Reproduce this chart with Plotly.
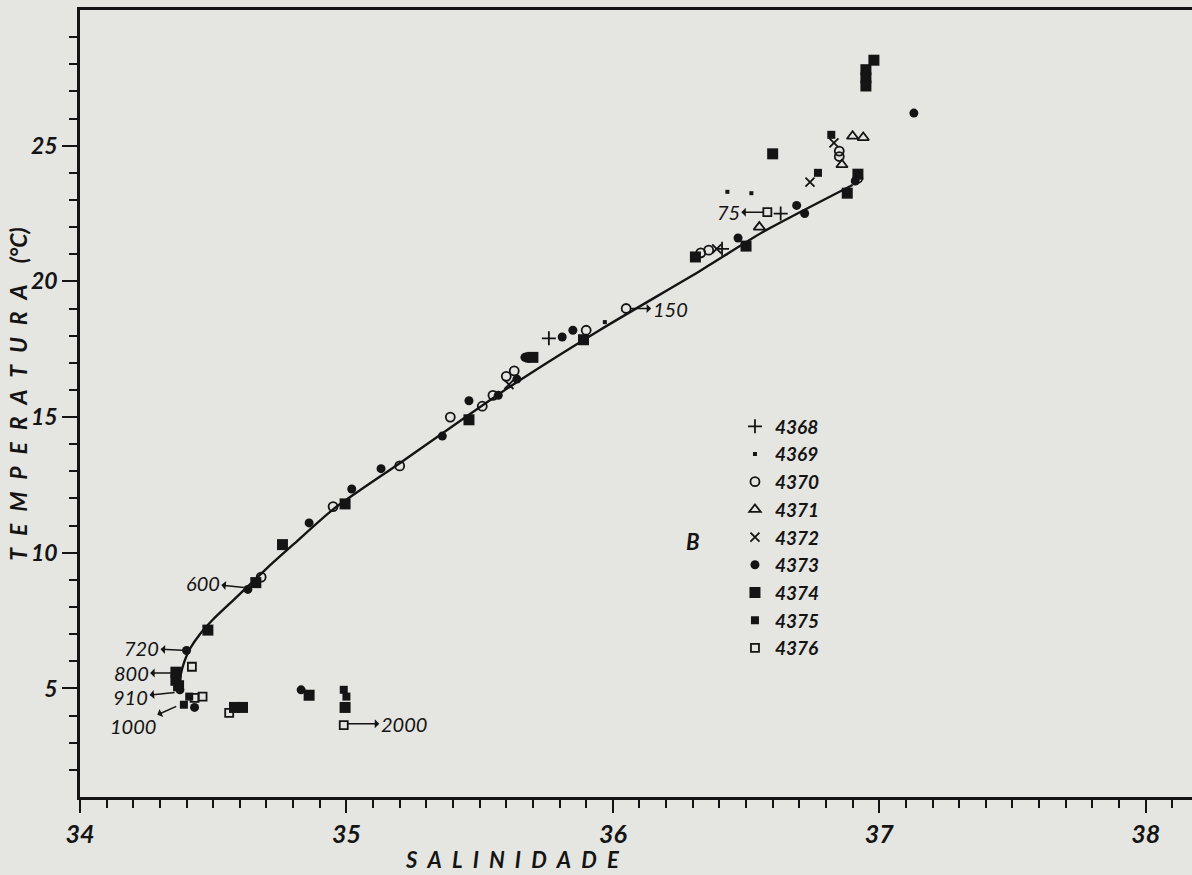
import plotly.graph_objects as go

# ---------------- data ----------------
curve_S = [34.372, 34.378, 34.392, 34.415, 34.45, 34.50, 34.57, 34.64, 34.72, 34.80, 34.95, 35.20, 35.58, 35.95, 36.33, 36.56, 36.90]
curve_T = [4.9, 5.5, 6.0, 6.5, 7.0, 7.55, 8.2, 8.85, 9.6, 10.3, 11.6, 13.3, 15.9, 18.2, 20.4, 21.8, 23.55]

st4368_S = [35.76, 36.63, 36.41]
st4368_T = [17.9, 22.5, 21.2]

st4369_S = [35.97, 36.43, 36.52]
st4369_T = [18.5, 23.3, 23.25]

st4370_S = [36.05, 34.68, 34.95, 35.20, 35.39, 35.51, 35.55, 35.60, 35.63, 35.68, 35.90, 36.33, 36.36, 36.85, 36.85, 36.92]
st4370_T = [19.0, 9.1, 11.7, 13.2, 15.0, 15.4, 15.8, 16.5, 16.7, 17.2, 18.2, 21.05, 21.15, 24.8, 24.6, 23.8]

st4371_S = [36.90, 36.94, 36.86, 36.55]
st4371_T = [25.35, 25.3, 24.3, 22.0]

st4372_S = [36.83, 36.74, 36.39, 35.61]
st4372_T = [25.1, 23.66, 21.2, 16.2]

st4373_S = [34.40, 34.375, 34.43, 34.63, 34.83, 34.86, 35.02, 35.13, 35.36, 35.46, 35.57, 35.64, 35.67,
            35.81, 35.85, 36.47, 36.69, 36.72, 37.13, 36.91]
st4373_T = [6.4, 4.95, 4.3, 8.65, 4.95, 11.1, 12.35, 13.1, 14.3, 15.6, 15.8, 16.4, 17.2,
            17.95, 18.2, 21.6, 22.8, 22.5, 26.2, 23.7]

st4374_S = [34.48, 34.36, 34.36, 34.37, 34.66, 34.76, 34.995, 34.58, 34.61, 34.86, 34.995, 35.46, 35.70,
            35.89, 36.31, 36.50, 36.60, 36.88, 36.92, 36.95, 36.95, 36.95, 36.98]
st4374_T = [7.15, 5.6, 5.3, 5.1, 8.9, 10.3, 11.8, 4.3, 4.3, 4.75, 4.3, 14.9, 17.2,
            17.85, 20.9, 21.3, 24.7, 23.25, 23.95, 27.8, 27.5, 27.2, 28.15]

st4375_S = [36.82, 36.77, 34.99, 35.00, 34.39, 34.41]
st4375_T = [25.4, 24.0, 4.95, 4.7, 4.4, 4.7]

st4376_S = [34.42, 34.46, 34.56, 34.99, 36.58, 34.43]
st4376_T = [5.8, 4.7, 4.1, 3.65, 22.55, 4.65]

depth_labels = ["600", "720", "800", "910", "1000", "75", "150", "2000"]
depth_S = [34.63, 34.40, 34.357, 34.37, 34.375, 36.58, 36.05, 34.99]
depth_T = [8.7, 6.4, 5.57, 4.87, 4.4, 22.55, 19.0, 3.7]
depth_dx = [-45, -45, -44, -48, -47, -39, 44, 60]
depth_dy = [-5, -2, 0, 5, 21, 0, 0, 0]

x_ticks = [34, 35, 36, 37, 38]
y_ticks = [5, 10, 15, 20, 25]

# ---------------- figure ----------------
INK = "#141414"
BG = "#e5e5e1"
FONT = "Lato"

fig = go.Figure()

fig.add_trace(go.Scatter(x=curve_S, y=curve_T, mode="lines",
                         line=dict(color=INK, width=2.4, shape="spline", smoothing=0.6),
                         showlegend=False, hoverinfo="skip"))

stations = [
    ("4368", st4368_S, st4368_T, dict(symbol="cross-thin", size=10, line=dict(color=INK, width=1.8))),
    ("4369", st4369_S, st4369_T, dict(symbol="square", size=4, color=INK)),
    ("4370", st4370_S, st4370_T, dict(symbol="circle-open", size=9, color=INK, line=dict(width=1.8))),
    ("4371", st4371_S, st4371_T, dict(symbol="triangle-up-open", size=10, color=INK, line=dict(width=1.8))),
    ("4372", st4372_S, st4372_T, dict(symbol="x-thin", size=9, line=dict(color=INK, width=1.8))),
    ("4373", st4373_S, st4373_T, dict(symbol="circle", size=9, color=INK)),
    ("4374", st4374_S, st4374_T, dict(symbol="square", size=11, color=INK)),
    ("4375", st4375_S, st4375_T, dict(symbol="square", size=8, color=INK)),
    ("4376", st4376_S, st4376_T, dict(symbol="square-open", size=8, color=INK, line=dict(width=1.8))),
]
for name, xs, ys, mk in stations:
    fig.add_trace(go.Scatter(x=xs, y=ys, mode="markers", name=name, marker=mk))

annotations = []
for lab, s, t, dx, dy in zip(depth_labels, depth_S, depth_T, depth_dx, depth_dy):
    annotations.append(dict(x=s, y=t, xref="x", yref="y", text=lab, showarrow=True,
                            ax=dx, ay=dy, axref="pixel", ayref="pixel",
                            arrowside="start", arrowhead=2, arrowsize=1, arrowwidth=1.5,
                            arrowcolor=INK, standoff=4, startstandoff=1, borderpad=0,
                            font=dict(family=FONT, size=20, color=INK, style="italic")))

annotations.append(dict(x=0.551, y=0.305, xref="paper", yref="paper", text="B", showarrow=False,
                        font=dict(family=FONT, size=22, color=INK, style="italic", weight="bold")))

annotations.append(dict(x=-0.056, y=0.512, xref="paper", yref="paper",
                        text="\u2002\u200a".join(list("TEMPERATURA")) + "\u2002\u2002(°C)",
                        textangle=-90, showarrow=False, xanchor="center", yanchor="middle",
                        font=dict(family=FONT, size=23, color=INK, style="italic", weight="bold")))

annotations.append(dict(x=0.389, y=-0.080, xref="paper", yref="paper",
                        text="\u2002".join(list("SALINIDADE")),
                        showarrow=False, xanchor="center", yanchor="middle",
                        font=dict(family=FONT, size=22, color=INK, style="italic", weight="bold")))

fig.update_layout(
    width=1192, height=875,
    margin=dict(l=80, r=0, t=10, b=78),
    paper_bgcolor=BG, plot_bgcolor=BG,
    annotations=annotations,
    legend=dict(x=0.589, y=0.495, xanchor="left", yanchor="top", bgcolor="rgba(0,0,0,0)",
                font=dict(family=FONT, size=19, color=INK, style="italic", weight="bold"),
                itemwidth=30, tracegroupgap=0),
    showlegend=True,
)

fig.update_xaxes(range=[34, 38.174], showgrid=False, zeroline=False,
                 showline=True, linecolor=INK, linewidth=2.5, mirror=True,
                 tickmode="array", tickvals=x_ticks, ticktext=[str(v) for v in x_ticks],
                 ticks="outside", ticklen=13, tickwidth=2, tickcolor=INK,
                 minor=dict(tickmode="array", tickvals=[round(34 + 0.1 * i, 1) for i in range(1, 42)],
                            ticks="outside", ticklen=8, tickwidth=1.6, tickcolor=INK, showgrid=False),
                 tickfont=dict(family=FONT, size=25, color=INK, weight="bold", style="italic"))

fig.update_yaxes(range=[1, 30], showgrid=False, zeroline=False,
                 showline=True, linecolor=INK, linewidth=2.5, mirror=False,
                 tickmode="array", tickvals=y_ticks, ticktext=[str(v) for v in y_ticks],
                 ticks="outside", ticklen=15, tickwidth=2, tickcolor=INK,
                 minor=dict(tickmode="array", tickvals=list(range(2, 30)),
                            ticks="outside", ticklen=8, tickwidth=1.6, tickcolor=INK, showgrid=False),
                 tickfont=dict(family=FONT, size=23, color=INK, weight="bold", style="italic"))

fig.write_html("out.html", config={"displayModeBar": False},
               post_script="document.body.style.margin='0px';document.body.style.overflow='hidden';")
